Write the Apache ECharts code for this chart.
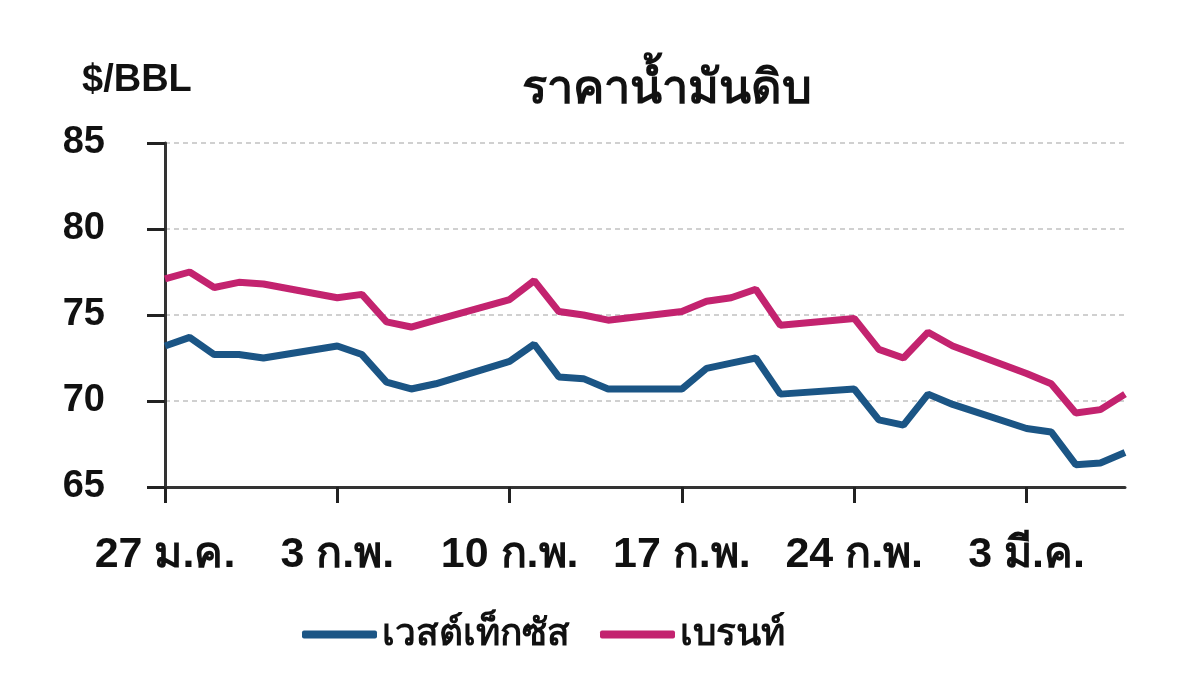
<!DOCTYPE html>
<html>
<head>
<meta charset="utf-8">
<script src="https://cdn.jsdelivr.net/npm/echarts@6/dist/echarts.min.js"></script>
<style>
html,body{margin:0;padding:0;background:#fff;}
#chart{width:1200px;height:689px;}
</style>
</head>
<body>
<div id="chart"></div>
<script>
const startDate = '2025-01-27';
const dates = [
  '2025-01-27','2025-01-28','2025-01-29','2025-01-30','2025-01-31',
  '2025-02-03','2025-02-04','2025-02-05','2025-02-06','2025-02-07',
  '2025-02-10','2025-02-11','2025-02-12','2025-02-13','2025-02-14',
  '2025-02-17','2025-02-18','2025-02-19','2025-02-20','2025-02-21',
  '2025-02-24','2025-02-25','2025-02-26','2025-02-27','2025-02-28',
  '2025-03-03','2025-03-04','2025-03-05','2025-03-06','2025-03-07'
];
const wti = [73.2, 73.7, 72.7, 72.7, 72.5, 73.2, 72.7, 71.1, 70.7, 71.0,
             72.3, 73.3, 71.4, 71.3, 70.7, 70.7, 71.9, 72.2, 72.5, 70.4,
             70.7, 68.9, 68.6, 70.4, 69.8, 68.4, 68.2, 66.3, 66.4, 67.0];
const brent = [77.1, 77.5, 76.6, 76.9, 76.8, 76.0, 76.2, 74.6, 74.3, 74.7,
               75.9, 77.0, 75.2, 75.0, 74.7, 75.2, 75.8, 76.0, 76.5, 74.4,
               74.8, 73.0, 72.5, 74.0, 73.2, 71.6, 71.0, 69.3, 69.5, 70.4];
const tickLabels = ['27 ม.ค.', '3 ก.พ.', '10 ก.พ.', '17 ก.พ.', '24 ก.พ.', '3 มี.ค.'];
const yTicks = [65, 70, 75, 80, 85];
const seriesNames = ['เวสต์เท็กซัส', 'เบรนท์'];
const titleText = 'ราคาน้ำมันดิบ';
const unitText = '$/BBL';

const DAY = 86400000;
const t0 = Date.parse(startDate + 'T00:00:00Z');
const dayIdx = d => Math.round((Date.parse(d + 'T00:00:00Z') - t0) / DAY);
const lastDay = dayIdx(dates[dates.length - 1]);

const FONT = '"Liberation Sans", Arial, "Noto Sans", sans-serif';
const chart = echarts.init(document.getElementById('chart'));
chart.setOption({
  animation: false,
  backgroundColor: '#fff',
  title: [
    { text: titleText, left: 662, top: 62, textAlign: 'center',
      textStyle: { fontFamily: FONT, fontSize: 47, fontWeight: 'bold', color: '#111' } },
    { text: unitText, left: 77, top: 57,
      textStyle: { fontFamily: FONT, fontSize: 38, fontWeight: 'bold', color: '#111' } }
  ],
  legend: {
    left: 297, top: 611,
    itemWidth: 75, itemHeight: 8, itemGap: 30,
    icon: 'roundRect',
    textStyle: { fontFamily: FONT, fontSize: 37, fontWeight: 'bold', color: '#111' },
    data: seriesNames
  },
  grid: { left: 165, right: 75, top: 143, bottom: 202 },
  xAxis: {
    type: 'value', min: 0, max: lastDay, interval: 7,
    axisLine: { show: true, lineStyle: { color: '#333', width: 3 } },
    axisTick: { show: true, length: 16, lineStyle: { color: '#222', width: 3 } },
    splitLine: { show: false },
    axisLabel: {
      margin: 47, fontFamily: FONT, fontSize: 43, fontWeight: 'bold', color: '#111',
      showMaxLabel: false,
      formatter: v => tickLabels[Math.round(v / 7)] || ''
    }
  },
  yAxis: {
    type: 'value', min: yTicks[0], max: yTicks[yTicks.length - 1], interval: 5,
    axisLine: { show: true, lineStyle: { color: '#333', width: 3 } },
    axisTick: { show: true, length: 18, lineStyle: { color: '#222', width: 3 } },
    splitLine: { show: true, lineStyle: { color: '#d0d0d0', width: 2, type: [5, 4] } },
    axisLabel: { margin: 60, fontFamily: FONT, fontSize: 38, fontWeight: 'bold', color: '#111' }
  },
  series: [
    { name: seriesNames[0], type: 'line', showSymbol: false, symbol: 'none',
      color: '#1b5585', lineStyle: { width: 7, color: '#1b5585' },
      data: dates.map((d, i) => [dayIdx(d), wti[i]]) },
    { name: seriesNames[1], type: 'line', showSymbol: false, symbol: 'none',
      color: '#c3236f', lineStyle: { width: 7, color: '#c3236f' },
      data: dates.map((d, i) => [dayIdx(d), brent[i]]) }
  ]
});
</script>
</body>
</html>
